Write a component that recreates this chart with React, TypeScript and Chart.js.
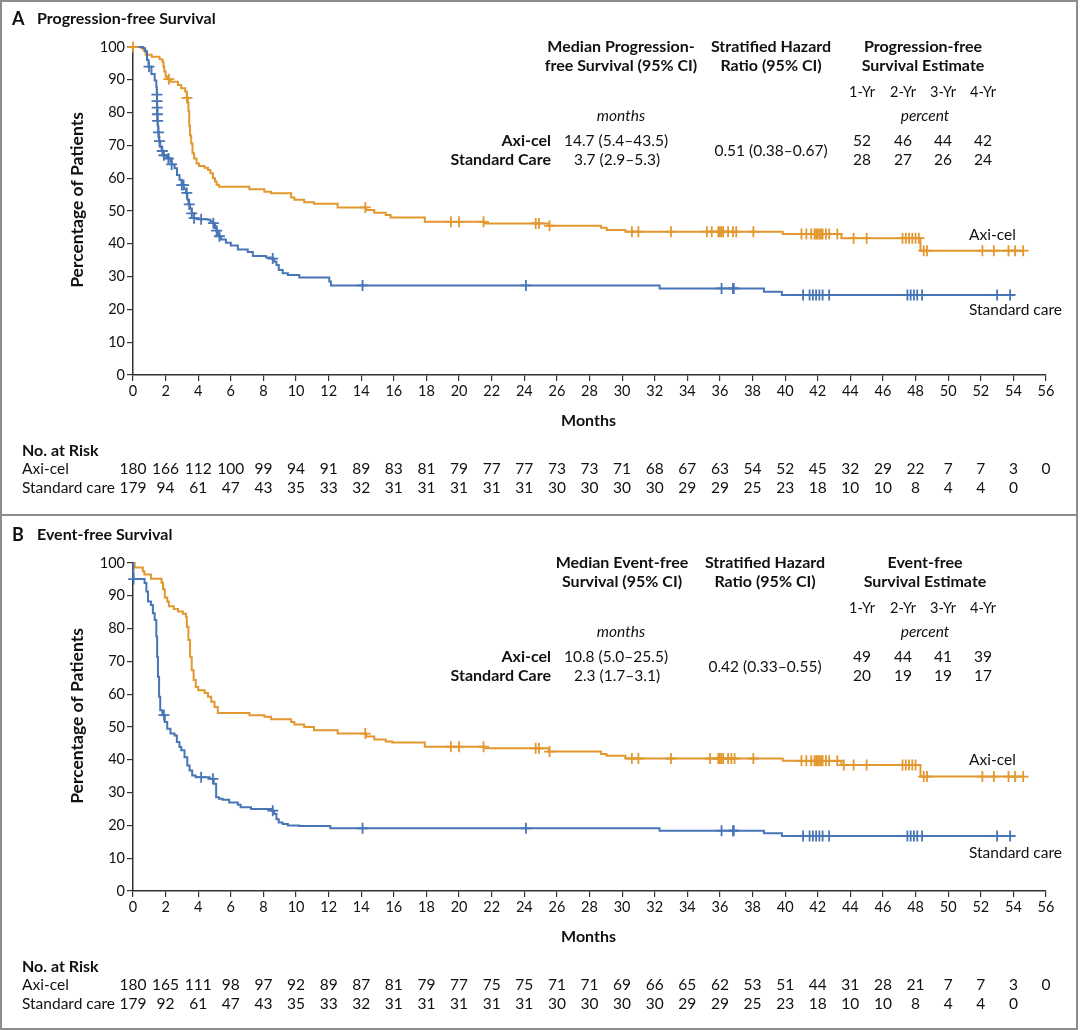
import React, { useEffect, useRef } from "react";
import { Chart, registerables } from "chart.js";
Chart.register(...registerables);

type Pt = [number, number];

const ORANGE = "#E2972F";
const BLUE = "#4775B6";
const FONT = "Lato, 'Noto Sans', sans-serif";

// ---------- Panel A: Progression-free survival ----------
const pfsAxiCurve: Pt[] = [
  [0, 100], [0.5, 99.6], [0.65, 98.9], [0.78, 97.6], [1.15, 97.0], [1.63, 96.3], [1.8, 95.5], [1.87, 94.0],
  [1.92, 92.5], [2.0, 91.0], [2.1, 90.2], [2.3, 89.4], [2.76, 88.4], [2.96, 87.4], [3.2, 86.4], [3.3, 84.5],
  [3.36, 83.0], [3.4, 80.5], [3.45, 76.0], [3.5, 73.0], [3.57, 70.6], [3.65, 67.6], [3.75, 66.0], [3.9, 64.5],
  [4.05, 63.7], [4.39, 63.2], [4.6, 62.5], [4.75, 61.5], [4.9, 60.0], [5.03, 59.0], [5.13, 58.0], [5.27, 57.4],
  [7.14, 56.6], [8.06, 55.9], [8.47, 55.4], [9.7, 54.1], [9.9, 53.4], [10.5, 52.7], [11.1, 52.2], [12.55, 51.1],
  [14.3, 50.3], [14.8, 49.5], [15.5, 48.8], [15.8, 48.0], [17.9, 46.7], [21.55, 46.2], [25.5, 45.5], [28.7, 44.9],
  [29.05, 44.2], [30.2, 43.7], [39.85, 43.0], [43.45, 41.7], [48.3, 37.9], [54.6, 37.9],
];
const pfsAxiCensor: number[] = [
  0, 2.2, 3.31, 14.25, 19.5, 20.0, 21.5, 24.7, 24.9, 25.55, 30.6, 31.0, 33.0, 35.2, 35.5, 35.9, 36.0, 36.1, 36.2,
  36.5, 36.8, 37.0, 38.05, 41.0, 41.3, 41.6, 41.8, 41.9, 42.0, 42.1, 42.2, 42.3, 42.5, 42.7, 43.2, 44.2, 45.0,
  47.2, 47.4, 47.6, 47.8, 48.0, 48.2, 48.5, 48.7, 52.1, 52.8, 53.7, 54.1, 54.6,
];
const pfsStdCurve: Pt[] = [
  [0, 100], [0.63, 99.6], [0.74, 98.7], [0.86, 96.0], [0.95, 94.0], [1.13, 91.8], [1.33, 89.8], [1.43, 87.8],
  [1.46, 85.5], [1.47, 83.5], [1.48, 81.5], [1.49, 79.5], [1.5, 77.5], [1.52, 76.0], [1.55, 74.0], [1.58, 72.5],
  [1.6, 71.3], [1.67, 69.5], [1.76, 68.3], [1.86, 67.0], [2.05, 66.5], [2.17, 66.0], [2.3, 65.0], [2.37, 64.2],
  [2.55, 63.0], [2.7, 61.0], [2.85, 59.5], [2.99, 57.9], [3.12, 56.8], [3.25, 55.5], [3.33, 53.5], [3.4, 52.0],
  [3.5, 50.8], [3.6, 49.3], [3.72, 47.8], [3.98, 47.5], [4.6, 47.3], [4.75, 46.8], [4.9, 46.3], [5.03, 44.8],
  [5.13, 44.0], [5.2, 43.0], [5.3, 42.3], [5.4, 41.3], [5.7, 40.3], [6.0, 39.5], [6.43, 38.3], [7.04, 37.5],
  [7.35, 36.3], [8.16, 35.8], [8.47, 35.5], [8.67, 34.5], [8.8, 33.5], [8.94, 32.0], [9.18, 31.0], [9.5, 30.5],
  [10.2, 29.7], [12.04, 28.5], [12.14, 27.3], [32.3, 26.4], [38.7, 25.4], [39.8, 24.4], [54.1, 24.4],
];
const pfsStdCensor: number[] = [
  0.98, 1.465, 1.475, 1.485, 1.495, 1.51, 1.56, 1.62, 1.8, 1.9, 2.17, 2.37, 2.99, 3.1, 3.3, 3.45, 3.6, 3.75, 4.18,
  4.93, 5.13, 5.3, 8.57, 14.08, 24.1, 36.1, 36.8, 36.85, 41.1, 41.5, 41.7, 41.9, 42.1, 42.3, 42.7, 47.5, 47.7,
  47.9, 48.1, 48.4, 53.0, 53.8,
];
const pfsAxiAtRisk: number[] = [180, 166, 112, 100, 99, 94, 91, 89, 83, 81, 79, 77, 77, 73, 73, 71, 68, 67, 63, 54, 52, 45, 32, 29, 22, 7, 7, 3, 0];
const pfsStdAtRisk: number[] = [179, 94, 61, 47, 43, 35, 33, 32, 31, 31, 31, 31, 31, 30, 30, 30, 30, 29, 29, 25, 23, 18, 10, 10, 8, 4, 4, 0];
const pfsHeaders: string[][] = [["Median Progression-", "free Survival (95% CI)"], ["Stratified Hazard", "Ratio (95% CI)"], ["Progression-free", "Survival Estimate"]];
const pfsMedians: string[] = ["14.7 (5.4–43.5)", "3.7 (2.9–5.3)"];
const pfsHazard = "0.51 (0.38–0.67)";
const pfsAxiEstimates: string[] = ["52", "46", "44", "42"];
const pfsStdEstimates: string[] = ["28", "27", "26", "24"];

// ---------- Panel B: Event-free survival ----------
const efsAxiCurve: Pt[] = [
  [0, 100], [0.1, 98.6], [0.6, 97.5], [0.7, 96.5], [1.1, 95.2], [1.75, 94.0], [1.84, 92.0], [1.95, 89.5],
  [2.1, 88.3], [2.2, 86.8], [2.5, 86.0], [2.76, 85.2], [3.06, 84.5], [3.25, 83.5], [3.3, 80.6], [3.4, 76.5],
  [3.5, 71.4], [3.6, 67.3], [3.72, 64.3], [3.85, 62.2], [4.0, 61.2], [4.4, 60.4], [4.6, 59.2], [4.8, 57.7],
  [5.0, 56.1], [5.2, 54.3], [7.14, 53.6], [8.06, 53.1], [8.47, 52.4], [9.7, 51.5], [9.9, 50.8], [10.5, 50.0],
  [11.1, 49.0], [12.55, 48.0], [14.3, 47.1], [14.8, 46.2], [15.5, 45.6], [15.9, 45.3], [17.9, 44.0], [21.55, 43.5],
  [25.5, 42.5], [28.7, 41.8], [29.05, 41.2], [30.2, 40.4], [39.85, 39.7], [43.45, 38.4], [48.3, 34.9], [54.6, 34.9],
];
const efsAxiCensor: number[] = [
  14.25, 19.5, 20.0, 21.5, 24.7, 24.9, 25.55, 30.6, 31.0, 33.0, 35.4, 35.9, 36.0, 36.1, 36.2, 36.5, 36.7, 36.9,
  38.05, 41.0, 41.3, 41.6, 41.8, 41.9, 42.0, 42.1, 42.2, 42.3, 42.5, 42.7, 43.2, 43.6, 44.2, 45.0, 47.2, 47.4,
  47.6, 47.8, 48.0, 48.5, 48.7, 52.1, 52.8, 53.7, 54.1, 54.6,
];
const efsStdCurve: Pt[] = [
  [0, 100], [0.02, 95.1], [0.71, 93.9], [0.82, 91.3], [0.92, 88.3], [1.1, 87.2], [1.22, 84.7], [1.33, 82.6],
  [1.43, 77.6], [1.48, 71.4], [1.53, 65.3], [1.6, 59.2], [1.67, 55.1], [1.8, 53.6], [1.95, 51.5], [2.1, 49.5],
  [2.3, 48.0], [2.55, 47.4], [2.69, 45.4], [2.85, 43.9], [2.96, 42.9], [3.16, 40.8], [3.33, 38.3], [3.47, 36.7],
  [3.63, 35.2], [3.84, 34.7], [4.7, 34.2], [4.95, 32.7], [5.1, 28.6], [5.27, 28.1], [5.5, 27.8], [5.9, 27.0],
  [6.43, 26.3], [6.6, 25.5], [7.24, 25.0], [8.5, 24.5], [8.67, 23.5], [8.8, 21.9], [8.94, 20.9], [9.18, 20.4],
  [9.5, 20.0], [10.2, 19.8], [12.1, 19.1], [32.3, 18.4], [38.7, 17.6], [39.8, 16.8], [54.1, 16.8],
];
const efsStdCensor: number[] = [
  0.04, 1.9, 4.18, 4.9, 8.57, 14.08, 24.1, 36.1, 36.8, 36.85, 41.1, 41.5, 41.7, 41.9, 42.1, 42.3, 42.7, 47.5,
  47.7, 47.9, 48.1, 48.4, 53.0, 53.8,
];
const efsAxiAtRisk: number[] = [180, 165, 111, 98, 97, 92, 89, 87, 81, 79, 77, 75, 75, 71, 71, 69, 66, 65, 62, 53, 51, 44, 31, 28, 21, 7, 7, 3, 0];
const efsStdAtRisk: number[] = [179, 92, 61, 47, 43, 35, 33, 32, 31, 31, 31, 31, 31, 30, 30, 30, 30, 29, 29, 25, 23, 18, 10, 10, 8, 4, 4, 0];
const efsHeaders: string[][] = [["Median Event-free", "Survival (95% CI)"], ["Stratified Hazard", "Ratio (95% CI)"], ["Event-free", "Survival Estimate"]];
const efsMedians: string[] = ["10.8 (5.0–25.5)", "2.3 (1.7–3.1)"];
const efsHazard = "0.42 (0.33–0.55)";
const efsAxiEstimates: string[] = ["49", "44", "41", "39"];
const efsStdEstimates: string[] = ["20", "19", "19", "17"];

const yearLabels: string[] = ["1-Yr", "2-Yr", "3-Yr", "4-Yr"];
const groupNames: string[] = ["Axi-cel", "Standard Care"];
const riskNames: string[] = ["Axi-cel", "Standard care"];
const atRiskStep = 2;

type PanelSpec = {
  letter: string;
  title: string;
  axi: Pt[];
  std: Pt[];
  axiCens: number[];
  stdCens: number[];
  axiRisk: number[];
  stdRisk: number[];
  headers: string[][];
  headerX: number[];
  medians: string[];
  hazard: string;
  axiEst: string[];
  stdEst: string[];
  axiLabelY: number;
  stdLabelY: number;
  height: number;
  top: number;
};

const stepAt = (curve: Pt[], t: number) => {
  let v = curve[0][1];
  for (const [x, y] of curve) {
    if (x <= t) v = y;
    else break;
  }
  return v;
};

function drawText(ctx: CanvasRenderingContext2D, s: string, x: number, y: number, size: number, opts: { weight?: string; style?: string; align?: CanvasTextAlign; color?: string } = {}) {
  ctx.save();
  ctx.font = `${opts.style || "normal"} ${opts.weight || "normal"} ${size}px ${FONT}`;
  ctx.fillStyle = opts.color || "#111";
  ctx.textAlign = opts.align || "left";
  ctx.textBaseline = "middle";
  ctx.fillText(s, x, y);
  ctx.restore();
}

const BOLD = 16;
const REG = 15.5;

function Panel({ spec }: { spec: PanelSpec }) {
  const ref = useRef<HTMLCanvasElement | null>(null);
  useEffect(() => {
    const canvas = ref.current!;
    const plotTop = 47;
    const plotBottom = 375;
    const xAxisH = 40;
    const textPlugin = {
      id: "panelText",
      afterDraw(chart: any) {
        const ctx: CanvasRenderingContext2D = chart.ctx;
        const W = chart.width;
        const H = chart.height;
        // borders
        ctx.save();
        ctx.fillStyle = "#8c8c8c";
        ctx.fillRect(0, 0, 2, H);
        ctx.fillRect(W - 4, 0, 2, H);
        if (spec.letter === "A") ctx.fillRect(0, 0, W - 2, 2);
        ctx.fillRect(0, H - 2, W - 2, 2);
        ctx.restore();
        // title
        drawText(ctx, spec.letter, 12, 19, 18, { weight: "bold" });
        drawText(ctx, spec.title, 37, 19, BOLD, { weight: "bold" });
        // y title
        ctx.save();
        ctx.translate(77, 200);
        ctx.rotate(-Math.PI / 2);
        drawText(ctx, "Percentage of Patients", 0, 0, 17.5, { weight: "bold", align: "center" });
        ctx.restore();
        // annotation headers
        spec.headers.forEach((lines, i) => {
          lines.forEach((l, j) => drawText(ctx, l, spec.headerX[i], 47 + j * 19, BOLD, { weight: "bold", align: "center" }));
        });
        const yrX = [862, 903, 943, 983];
        yearLabels.forEach((l, i) => drawText(ctx, l, yrX[i], 92, 14.5, { align: "center" }));
        drawText(ctx, "months", 621, 116, REG, { style: "italic", align: "center" });
        drawText(ctx, "percent", 925, 116, REG, { style: "italic", align: "center" });
        drawText(ctx, groupNames[0], 551, 141, BOLD, { weight: "bold", align: "right" });
        drawText(ctx, groupNames[1], 551, 160, BOLD, { weight: "bold", align: "right" });
        drawText(ctx, spec.medians[0], 616, 141, REG, { align: "center" });
        drawText(ctx, spec.medians[1], 617, 160, REG, { align: "center" });
        drawText(ctx, spec.hazard, spec.headerX[1], 151, REG, { align: "center" });
        spec.axiEst.forEach((v, i) => drawText(ctx, v, yrX[i], 141, REG, { align: "center" }));
        spec.stdEst.forEach((v, i) => drawText(ctx, v, yrX[i], 160, REG, { align: "center" }));
        // curve labels
        drawText(ctx, "Axi-cel", 969, spec.axiLabelY, REG);
        drawText(ctx, "Standard care", 969, spec.stdLabelY, REG);
        // x title
        const xs = chart.scales.x;
        drawText(ctx, "Months", xs.getPixelForValue(28) - 1, 421, BOLD, { weight: "bold", align: "center" });
        // at risk
        drawText(ctx, "No. at Risk", 22, 451, BOLD, { weight: "bold" });
        drawText(ctx, riskNames[0], 22, 469, REG);
        drawText(ctx, riskNames[1], 22, 488, REG);
        spec.axiRisk.forEach((v, i) => drawText(ctx, String(v), xs.getPixelForValue(i * atRiskStep), 469, REG, { align: "center" }));
        spec.stdRisk.forEach((v, i) => drawText(ctx, String(v), xs.getPixelForValue(i * atRiskStep), 488, REG, { align: "center" }));
      },
    };
    const tickFont = { family: FONT, size: 14.5 };
    const lineDs = (curve: Pt[], color: string) =>
      ({
        data: curve.map(([x, y]) => ({ x, y })),
        borderColor: color,
        borderWidth: 2,
        stepped: "before",
        pointRadius: 0,
        fill: false,
        clip: 6,
      } as any);
    const censorDs = (curve: Pt[], times: number[], color: string) =>
      ({
        type: "scatter",
        data: times.map((t) => ({ x: t, y: stepAt(curve, t) })),
        pointStyle: "cross",
        pointRadius: 5.5,
        borderColor: color,
        borderWidth: 1.8,
        showLine: false,
        clip: 10,
      } as any);
    const chart = new Chart(canvas, {
      type: "line",
      data: {
        datasets: [
          censorDs(spec.axi, spec.axiCens, ORANGE),
          censorDs(spec.std, spec.stdCens, BLUE),
          lineDs(spec.std, BLUE),
          lineDs(spec.axi, ORANGE),
        ],
      },
      options: {
        responsive: false,
        maintainAspectRatio: false,
        animation: false,
        events: [],
        layout: { padding: { left: 73, right: 34, top: plotTop, bottom: spec.height - plotBottom - xAxisH } },
        plugins: { legend: { display: false }, tooltip: { enabled: false } },
        scales: {
          x: {
            type: "linear",
            min: 0,
            max: 56,
            afterFit: (s: any) => {
              s.height = xAxisH;
            },
            ticks: { stepSize: 2, autoSkip: false, maxRotation: 0, font: tickFont, color: "#111", padding: 2 },
            grid: { drawOnChartArea: false, drawTicks: true, tickLength: 6, color: "#333", lineWidth: 1.2 },
            border: { color: "#333", width: 1.5 },
          },
          y: {
            type: "linear",
            min: 0,
            max: 100,
            afterFit: (s: any) => {
              s.width = 60;
            },
            ticks: { stepSize: 10, font: tickFont, color: "#111", padding: 2 },
            grid: { drawOnChartArea: false, drawTicks: true, tickLength: 6, color: "#333", lineWidth: 1.2 },
            border: { color: "#333", width: 1.5 },
          },
        },
      } as any,
      plugins: [textPlugin],
    });
    return () => chart.destroy();
  }, [spec]);
  return (
    <canvas
      ref={ref}
      width={1080}
      height={spec.height}
      style={{ position: "absolute", left: 0, top: spec.top, width: 1080, height: spec.height, display: "block" }}
    />
  );
}

const panelA: PanelSpec = {
  letter: "A",
  title: "Progression-free Survival",
  axi: pfsAxiCurve,
  std: pfsStdCurve,
  axiCens: pfsAxiCensor,
  stdCens: pfsStdCensor,
  axiRisk: pfsAxiAtRisk,
  stdRisk: pfsStdAtRisk,
  headers: pfsHeaders,
  headerX: [621, 771, 923],
  medians: pfsMedians,
  hazard: pfsHazard,
  axiEst: pfsAxiEstimates,
  stdEst: pfsStdEstimates,
  axiLabelY: 235,
  stdLabelY: 310,
  height: 516,
  top: 0,
};

const panelB: PanelSpec = {
  letter: "B",
  title: "Event-free Survival",
  axi: efsAxiCurve,
  std: efsStdCurve,
  axiCens: efsAxiCensor,
  stdCens: efsStdCensor,
  axiRisk: efsAxiAtRisk,
  stdRisk: efsStdAtRisk,
  headers: efsHeaders,
  headerX: [622, 765, 925],
  medians: efsMedians,
  hazard: efsHazard,
  axiEst: efsAxiEstimates,
  stdEst: efsStdEstimates,
  axiLabelY: 244,
  stdLabelY: 337,
  height: 514,
  top: 516,
};

export default function App() {
  return (
    <div style={{ position: "absolute", left: 0, top: 0, width: 1080, height: 1030, background: "#fff", overflow: "hidden" }}>
      <Panel spec={panelA} />
      <Panel spec={panelB} />
    </div>
  );
}
